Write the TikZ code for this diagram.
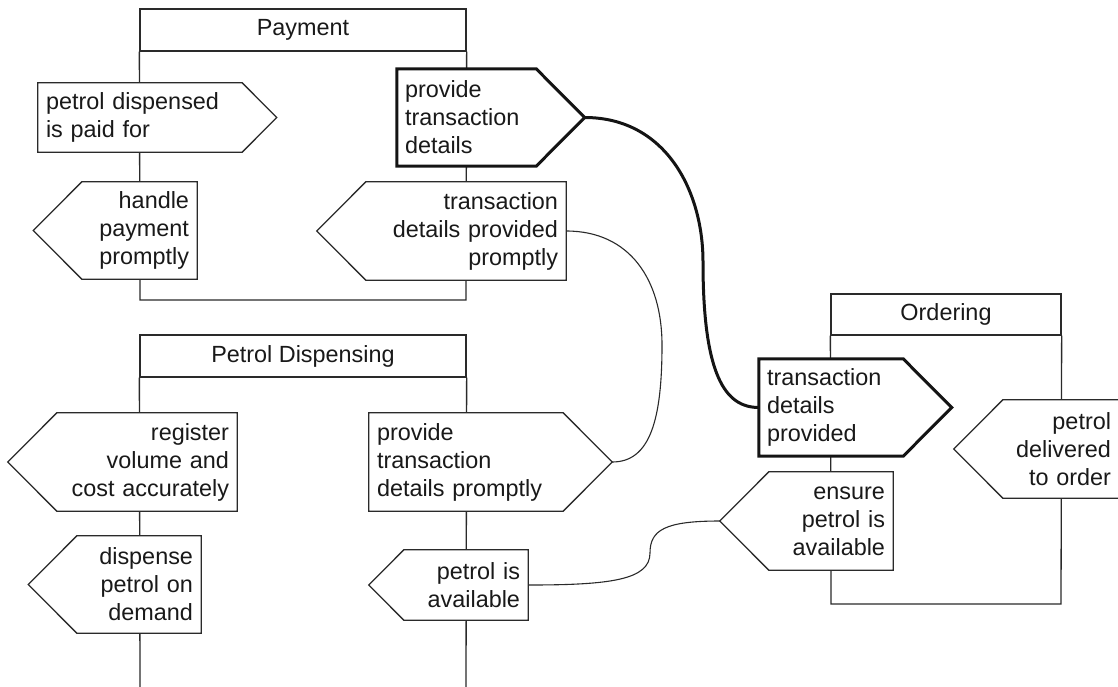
\documentclass[tikz,border=0pt]{standalone}
\usepackage{fontspec}
\setmainfont{Liberation Sans}
\usetikzlibrary{calc}
\definecolor{ink}{HTML}{2A2A2A}
\newcommand\goalfont{\fontsize{23.4pt}{28pt}\selectfont}

% goal pointing right: name, centre x, centre y, width, height, outline style, text
\newcommand\goalE[7]{%
  \node[goal,align=left,text width=\the\dimexpr#4pt-16pt\relax,minimum height=#5pt] (#1) at (#2,#3) {#7};
  \coordinate (#1-tip) at ($(#1.east)+(#5/2,0)$);
  \draw[#6] (#1.north west) -- (#1.north east) -- (#1-tip) -- (#1.south east) -- (#1.south west) -- cycle;
}
% goal pointing left
\newcommand\goalW[7]{%
  \node[goal,align=right,text width=\the\dimexpr#4pt-16pt\relax,minimum height=#5pt] (#1) at (#2,#3) {#7};
  \coordinate (#1-tip) at ($(#1.west)+(-#5/2,0)$);
  \draw[#6] (#1.north east) -- (#1.north west) -- (#1-tip) -- (#1.south west) -- (#1.south east) -- cycle;
}

\begin{document}
\begin{tikzpicture}[x=1pt,y=-1pt,
  thin/.style={draw=ink,line width=1.3pt},
  heavy/.style={draw=black!92,line width=3pt},
  goal/.style={fill=white,inner xsep=8pt,inner ysep=0pt,font=\goalfont,text=black!90},
  titlebox/.style={thin,fill=white,inner sep=0pt,font=\goalfont,text=black!90}]
\useasboundingbox (0,0) rectangle (1118,686);
\clip (0,0) rectangle (1118,686);

% ---- Payment ----
\node[titlebox,minimum width=326pt,minimum height=42pt] (payT) at (303,30) {Payment};
\coordinate (payBL) at (140,300);
\coordinate (payBR) at (466,300);
\draw[thin] (payT.south west) -- (payBL) -- (payBR) -- (payT.south east);

% ---- Petrol Dispensing ----
\node[titlebox,minimum width=326pt,minimum height=42pt] (pdT) at (303,356) {Petrol Dispensing};
\coordinate (pdBL) at (140,690);
\coordinate (pdBR) at (466,690);
\draw[thin] (pdT.south west) -- (pdBL);
\draw[thin] (pdT.south east) -- (pdBR);

% ---- Ordering ----
\node[titlebox,minimum width=230pt,minimum height=41pt] (ordT) at (946,314.5) {Ordering};
\coordinate (ordBL) at (831,604);
\coordinate (ordBR) at (1061,604);
\draw[thin] (ordT.south west) -- (ordBL) -- (ordBR) -- (ordT.south east);

% ---- goals ----
\goalE{pdp}{140}{117.5}{204}{69}{thin}{petrol dispensed\\is paid for}
\goalE{ptd}{466.5}{117.5}{139}{97}{heavy}{provide\\transaction\\details}
\goalW{hpp}{139.5}{230.5}{115}{97}{thin}{handle\\payment\\promptly}
\goalW{tdpp}{466}{231}{200}{98}{thin}{transaction\\details provided\\promptly}
\goalW{rvca}{147}{462}{180}{98}{thin}{register\\volume and\\cost accurately}
\goalE{ptdp}{466}{462}{194}{98}{thin}{provide\\transaction\\details promptly}
\goalW{dpod}{139}{584.5}{124}{97}{thin}{dispense\\petrol on\\demand}
\goalW{pia}{466}{585}{124}{70}{thin}{petrol is\\available}
\goalE{tdp}{831}{407.5}{144}{97}{heavy}{transaction\\details\\provided}
\goalW{pdto}{1061}{449}{116}{98}{thin}{petrol\\delivered\\to order}
\goalW{epia}{831}{521}{124}{98}{thin}{ensure\\petrol is\\available}

% ---- connectors ----
\coordinate (bendA) at (703,262);
\draw[heavy] (ptd-tip) .. controls (665,117.5) and (703,190) .. (bendA)
  .. controls (703,375) and (725,407.5) .. (tdp.west);

\coordinate (bendB) at (662,345);
\draw[thin,line width=1.1pt] (tdpp.east) .. controls (630,231) and (662,280) .. (bendB)
  .. controls (662,420) and (650,462) .. (ptdp-tip);

\coordinate (bendC) at (650,553);
\draw[thin,line width=1.1pt] (pia.east) .. controls (610,585) and (650,580) .. (bendC)
  .. controls (650,530) and (665,521) .. (epia-tip);
\end{tikzpicture}
\end{document}
